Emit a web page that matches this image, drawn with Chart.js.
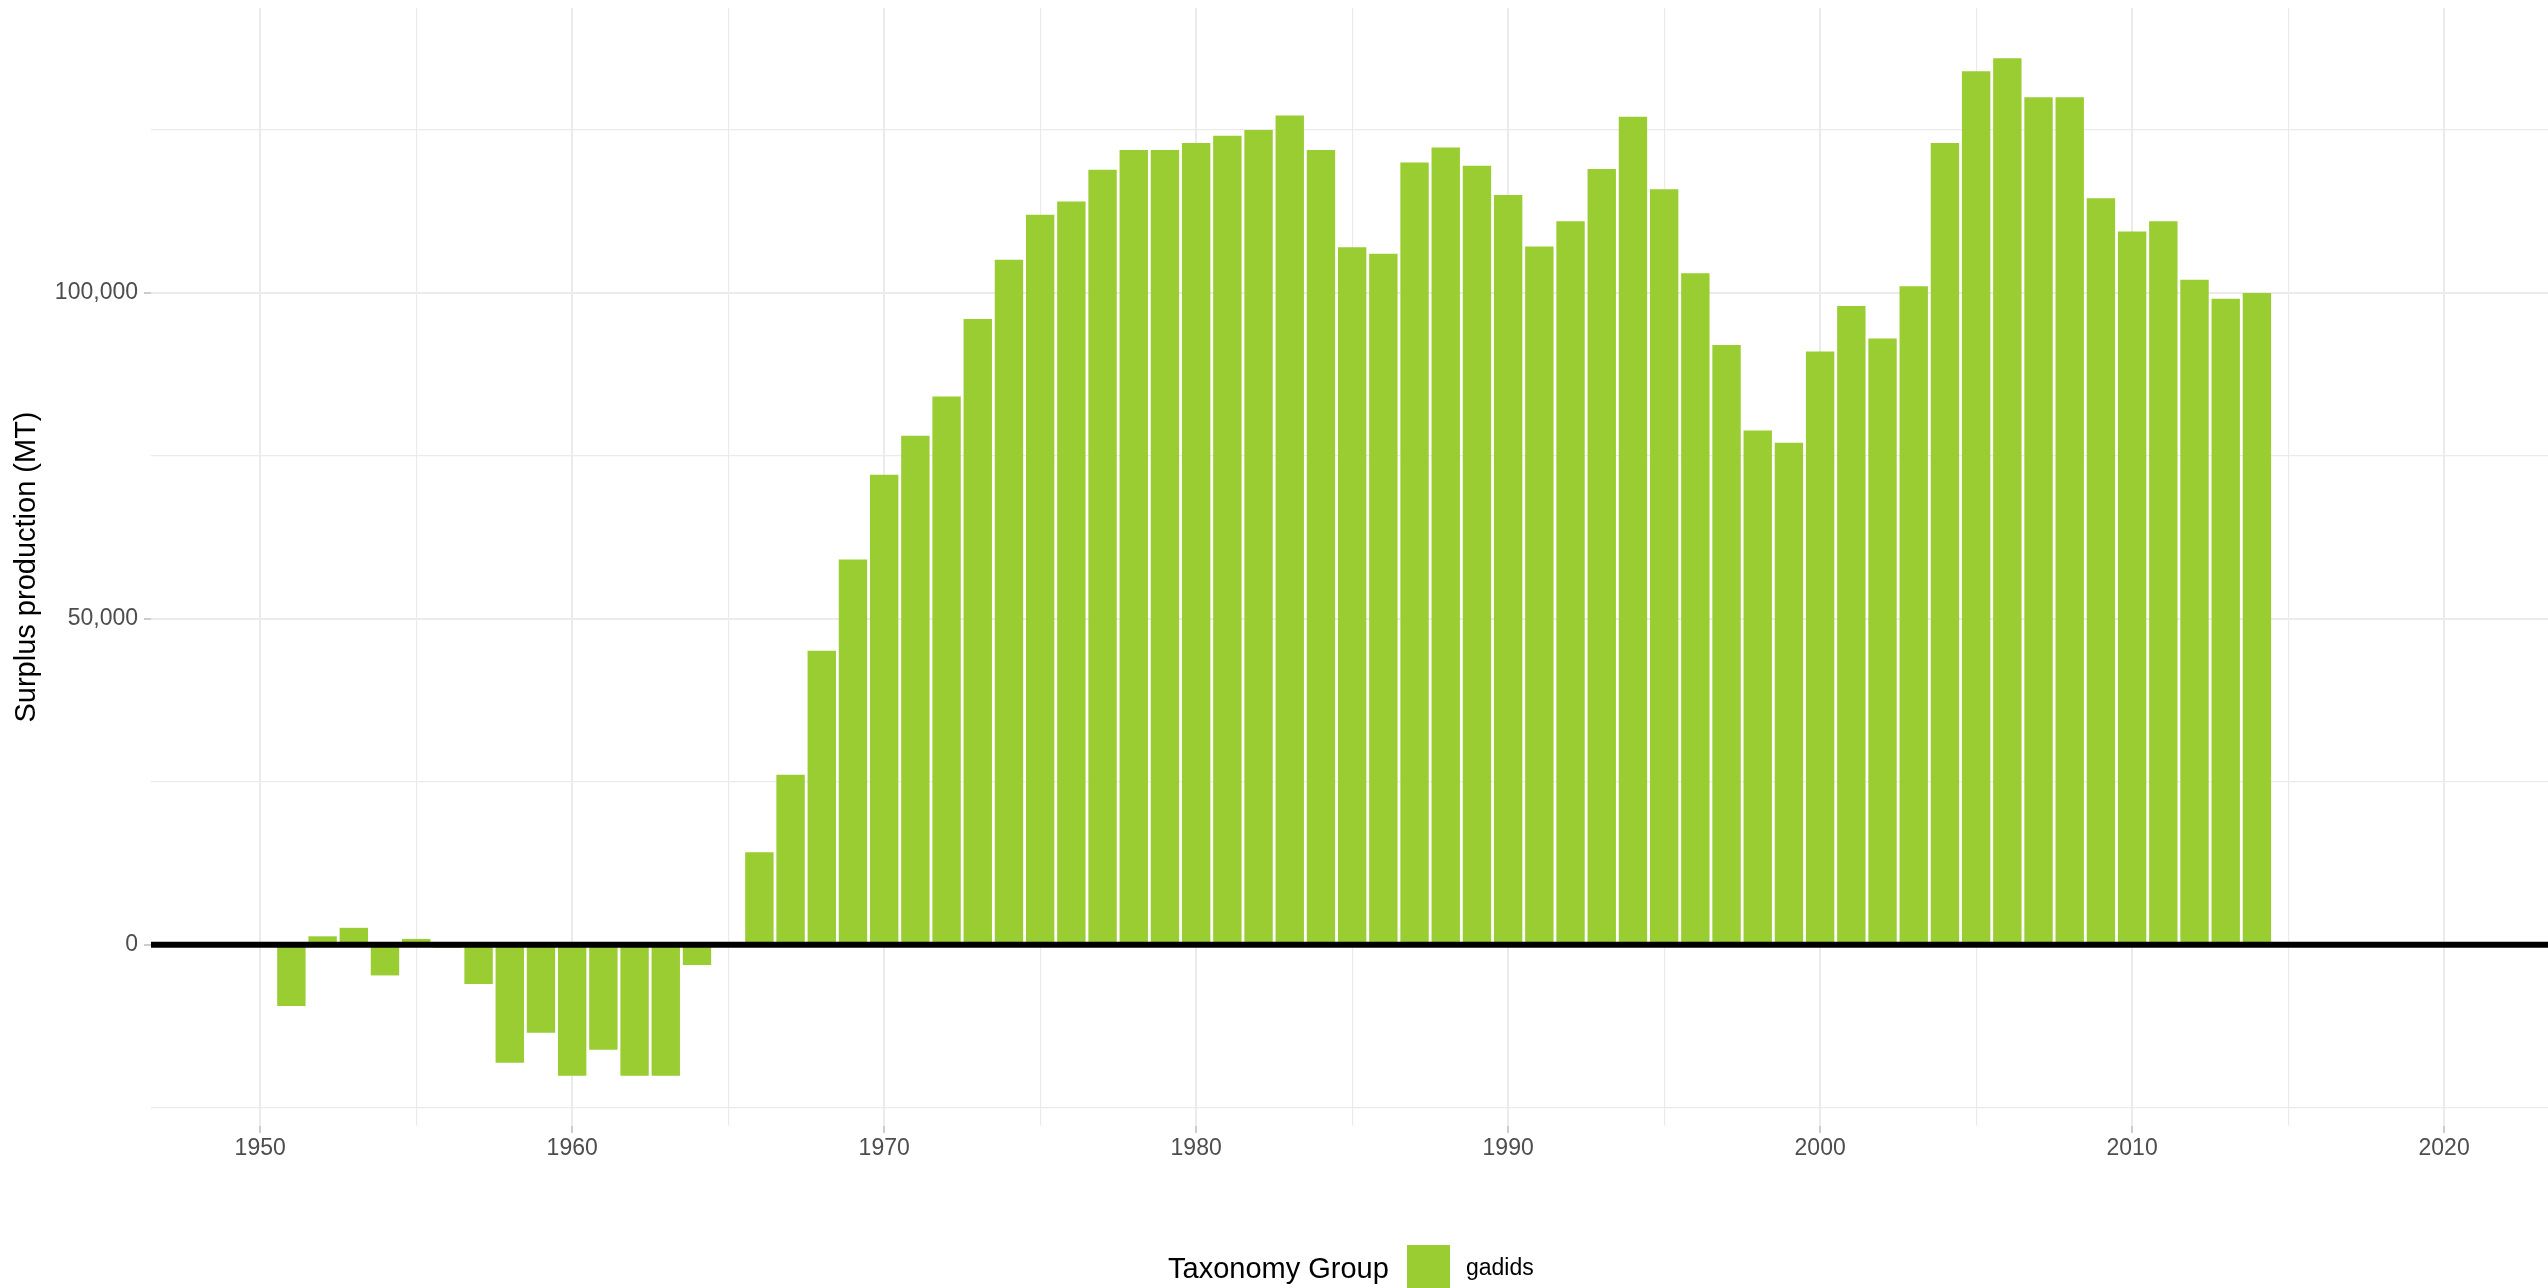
<!DOCTYPE html>
<html>
<head>
<meta charset="utf-8">
<script src="https://cdn.jsdelivr.net/npm/chart.js@4.4.1/dist/chart.umd.min.js"></script>
<style>
    html, body { margin: 0; padding: 0; background: #fff; }
    #wrap { position: relative; width: 2548px; height: 1288px; overflow: hidden; }
    #legend span { position: absolute; font-family: 'Liberation Sans', Arial, sans-serif; line-height: 1; white-space: nowrap; }
    #legend .key { background: #9acd32; width: 43px; height: 43px; }
</style>
</head>
<body>
<div id="wrap">
    <canvas id="surplusChart" width="2548" height="1288"></canvas>
    <div id="legend">
        <span style="left:1168px; top:1254px; font-size:29px; color:#000;">Taxonomy Group</span>
        <span class="key" style="left:1407px; top:1245px;"></span>
        <span style="left:1466px; top:1256px; font-size:23px; color:#000;">gadids</span>
    </div>
</div>
<script>
Chart.defaults.font.family = "'Liberation Sans', Arial, sans-serif";
Chart.defaults.color = '#4d4d4d';

const years = [
    1951, 1952, 1953, 1954, 1955, 1956, 1957, 1958, 1959, 1960,
    1961, 1962, 1963, 1964, 1965, 1966, 1967, 1968, 1969, 1970,
    1971, 1972, 1973, 1974, 1975, 1976, 1977, 1978, 1979, 1980,
    1981, 1982, 1983, 1984, 1985, 1986, 1987, 1988, 1989, 1990,
    1991, 1992, 1993, 1994, 1995, 1996, 1997, 1998, 1999, 2000,
    2001, 2002, 2003, 2004, 2005, 2006, 2007, 2008, 2009, 2010,
    2011, 2012, 2013, 2014
];
// gadids surplus production (MT), 1965 has no bar
const gadids = [
    -9400, 1300, 2600, -4700, 900, -450, -6000, -18100, -13500, -20100,
    -16100, -20100, -20100, -3100, null, 14200, 26100, 45100, 59100, 72100,
    78100, 84100, 96000, 105100, 112000, 114000, 118900, 121900, 121900, 123000,
    124100, 125000, 127200, 121900, 107000, 106000, 120000, 122300, 119500, 115000,
    107100, 111000, 119000, 127000, 115900, 103000, 92000, 78900, 77000, 91000,
    98000, 93000, 101000, 123000, 134000, 136000, 130000, 130000, 114500, 109400,
    111000, 102000, 99100, 100000
];
const xMajor = [1950, 1960, 1970, 1980, 1990, 2000, 2010, 2020];
const xMinor = [1955, 1965, 1975, 1985, 1995, 2005, 2015];
const yMajor = [0, 50000, 100000];
const yMinor = [-25000, 25000, 75000, 125000];

const gridColor = '#ebebeb';
const tickColor = '#cccccc';

function setTicks(major, minor) {
    return function (scale) {
        scale.ticks = major.concat(minor).sort((a, b) => a - b).map(v => ({ value: v }));
    };
}

function fixBox(w, h) {
    return function (scale) {
        if (w) scale.width = w;
        if (h) scale.height = h;
        scale.paddingTop = 0;
        scale.paddingBottom = 0;
        scale.paddingLeft = 0;
        scale.paddingRight = 0;
    };
}

function isMajor(list, c) {
    return !!(c.tick && list.includes(c.tick.value));
}

// thick black line at zero, drawn on top of the bars
const zeroLine = {
    id: 'zeroLine',
    afterDatasetsDraw(chart) {
        const { ctx, chartArea, scales } = chart;
        const y = scales.y.getPixelForValue(0);
        ctx.save();
        ctx.strokeStyle = '#000';
        ctx.lineWidth = 6;
        ctx.beginPath();
        ctx.moveTo(chartArea.left, y);
        ctx.lineTo(chartArea.right, y);
        ctx.stroke();
        ctx.restore();
    }
};

const ctx = document.getElementById('surplusChart').getContext('2d');

var surplusChart = new Chart(ctx, {
    type: 'bar',
    data: {
        datasets: [{
            label: 'gadids',
            data: years.map((yr, i) => ({ x: yr, y: gadids[i] })),
            backgroundColor: '#9acd32',
            borderWidth: 0,
            barPercentage: 0.91,
            categoryPercentage: 1.0
        }]
    },
    options: {
        responsive: false,
        animation: false,
        layout: {
            padding: { top: 8, left: 0, right: 0, bottom: 112 }
        },
        plugins: {
            legend: { display: false },
            tooltip: { enabled: false }
        },
        scales: {
            x: {
                type: 'linear',
                offset: false,
                min: 1946.5,
                max: 2023.33,
                afterBuildTicks: setTicks(xMajor, xMinor),
                afterFit: fixBox(null, 50),
                grid: {
                    offset: false,
                    color: gridColor,
                    lineWidth: c => isMajor(xMajor, c) ? 2 : 1.2,
                    tickColor: c => isMajor(xMajor, c) ? tickColor : 'rgba(0,0,0,0)',
                    tickLength: 7,
                    tickWidth: 2
                },
                border: { display: false },
                ticks: {
                    autoSkip: false,
                    maxRotation: 0,
                    padding: 2,
                    font: { size: 23 },
                    color: '#4d4d4d',
                    callback: v => xMajor.includes(v) ? String(v) : ''
                }
            },
            y: {
                min: -27800,
                max: 143700,
                afterBuildTicks: setTicks(yMajor, yMinor),
                afterFit: fixBox(151, null),
                grid: {
                    color: gridColor,
                    lineWidth: c => isMajor(yMajor, c) ? 2 : 1.2,
                    tickColor: c => isMajor(yMajor, c) ? tickColor : 'rgba(0,0,0,0)',
                    tickLength: 7,
                    tickWidth: 2
                },
                border: { display: false },
                ticks: {
                    padding: 6,
                    font: { size: 23 },
                    color: '#4d4d4d',
                    callback: v => yMajor.includes(v) ? v.toLocaleString('en-US') : ''
                },
                title: {
                    display: true,
                    text: 'Surplus production (MT)',
                    color: '#000',
                    font: { size: 29 },
                    padding: { top: 10, bottom: 0 }
                }
            }
        }
    },
    plugins: [zeroLine]
});
</script>
</body>
</html>
